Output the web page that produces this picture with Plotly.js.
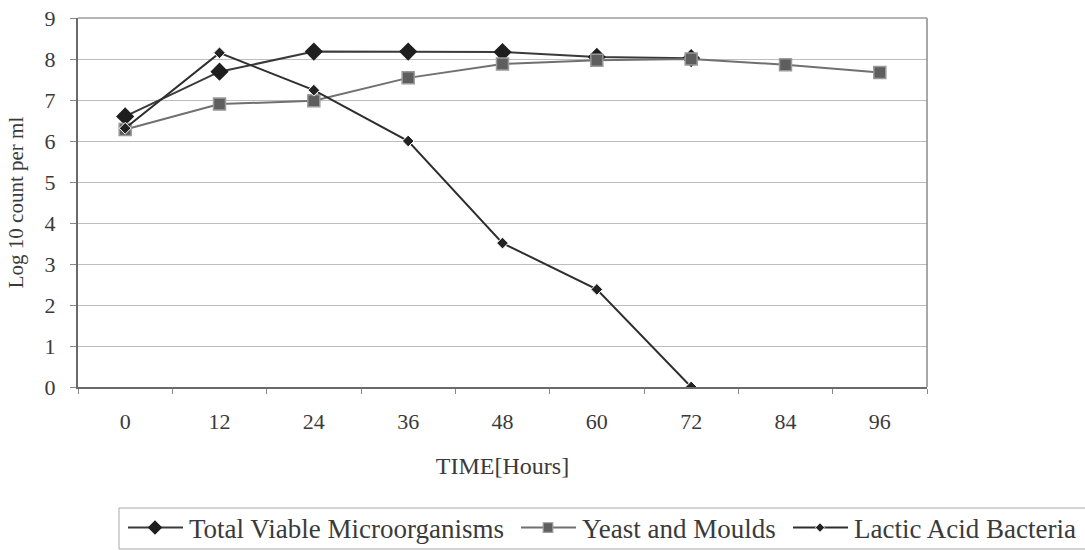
<!DOCTYPE html>
<html><head><meta charset="utf-8">
<script src="https://cdn.plot.ly/plotly-3.0.1.min.js"></script>
<style>body{margin:0;background:#fff}#c{width:1085px;height:550px}</style>
</head><body><div id="c"></div>
<script>
const hours = ['0','12','24','36','48','60','72','84','96'];
const tvmHours = ['0','12','24','36','48','60','72'];
const tvm = [6.6, 7.69, 8.18, 8.18, 8.17, 8.05, 8.02];
const yeastHours = ['0','12','24','36','48','60','72','84','96'];
const yeast = [6.28, 6.9, 6.98, 7.54, 7.88, 7.97, 8.0, 7.86, 7.67];
const labHours = ['0','12','24','36','48','60','72'];
const lab = [6.31, 8.15, 7.24, 6.0, 3.51, 2.38, 0];
const names = ['Total Viable Microorganisms','Yeast and Moulds','Lactic Acid Bacteria'];
const yTicks = [0,1,2,3,4,5,6,7,8,9];

const fam = '"Liberation Serif", "DejaVu Serif", serif';
const txt = '#3a3a3a';
const traces = [
 {x:tvmHours, y:tvm, name:names[0], legend:'legend', mode:'lines+markers', type:'scatter',
  line:{color:'#3a3a3a', width:2}, marker:{symbol:'diamond', size:14, color:'#1e1e1e'}},
 {x:yeastHours, y:yeast, name:names[1], legend:'legend2', mode:'lines+markers', type:'scatter',
  line:{color:'#707070', width:2}, marker:{symbol:'square', size:12, color:'#5e5e5e', line:{color:'#9a9a9a', width:1.5}}},
 {x:labHours, y:lab, name:names[2], legend:'legend3', mode:'lines+markers', type:'scatter',
  line:{color:'#2e2e2e', width:2}, marker:{symbol:'diamond', size:9, color:'#222', line:{color:'#fff', width:1}}}
];
function leg(xpx){
  return {orientation:'h', xref:'container', yref:'container', x:xpx/1085, y:0.04, xanchor:'left', yanchor:'middle',
   borderwidth:0, bgcolor:'rgba(0,0,0,0)', font:{size:27, color:txt, family:fam}, itemwidth:56, tracegroupgap:0};
}
const layout = {
 width:1085, height:550,
 margin:{l:78, r:158, t:18, b:163},
 paper_bgcolor:'#fff', plot_bgcolor:'#fff',
 font:{family:fam, color:txt, size:22},
 showlegend:true,
 xaxis:{type:'category', categoryorder:'array', categoryarray:hours, tickvals:hours,
   range:[-0.5, 8.5], tickson:'boundaries', ticks:'outside', ticklen:5, tickcolor:'#888',
   ticklabelstandoff:14,
   showgrid:false, showline:true, linecolor:'#6a6a6a', linewidth:2, zeroline:false,
   tickfont:{size:22, color:txt, family:fam},
   title:{text:'TIME[Hours]', font:{size:24, color:txt, family:fam}, standoff:24}},
 yaxis:{range:[0,9], tickvals:yTicks, ticks:'outside', ticklen:6, tickcolor:'#888',
   ticklabelstandoff:10,
   showgrid:true, gridcolor:'#bdbdbd', gridwidth:1, showline:true, linecolor:'#6a6a6a', linewidth:2,
   zeroline:false, tickfont:{size:22, color:txt, family:fam},
   title:{text:'Log 10 count per ml', font:{size:21, color:txt, family:fam}, standoff:15}},
 shapes:[
  {type:'line', xref:'paper', yref:'paper', x0:1, x1:1, y0:0, y1:1, line:{color:'#8a8a8a', width:1.5}},
  {type:'line', xref:'paper', yref:'paper', x0:0, x1:1, y0:1, y1:1, line:{color:'#9a9a9a', width:1.5}},
  {type:'rect', xref:'paper', yref:'paper', x0:0.0483, x1:1.21, y0:-0.439, y1:-0.328, line:{color:'#a8a8a8', width:1}}
 ],
 legend:leg(123), legend2:leg(516), legend3:leg(788)
};
Plotly.newPlot('c', traces, layout, {displayModeBar:false, staticPlot:true}).then(function(gd){
  // lengthen legend sample lines and centre (slightly smaller) markers on them
  gd.querySelectorAll('.legendlines path').forEach(function(p){ p.setAttribute('d','M5,0h55'); });
  gd.querySelectorAll('.legendpoints path').forEach(function(p){ p.setAttribute('transform','translate(32,0) scale(0.8)'); });
});
</script></body></html>
